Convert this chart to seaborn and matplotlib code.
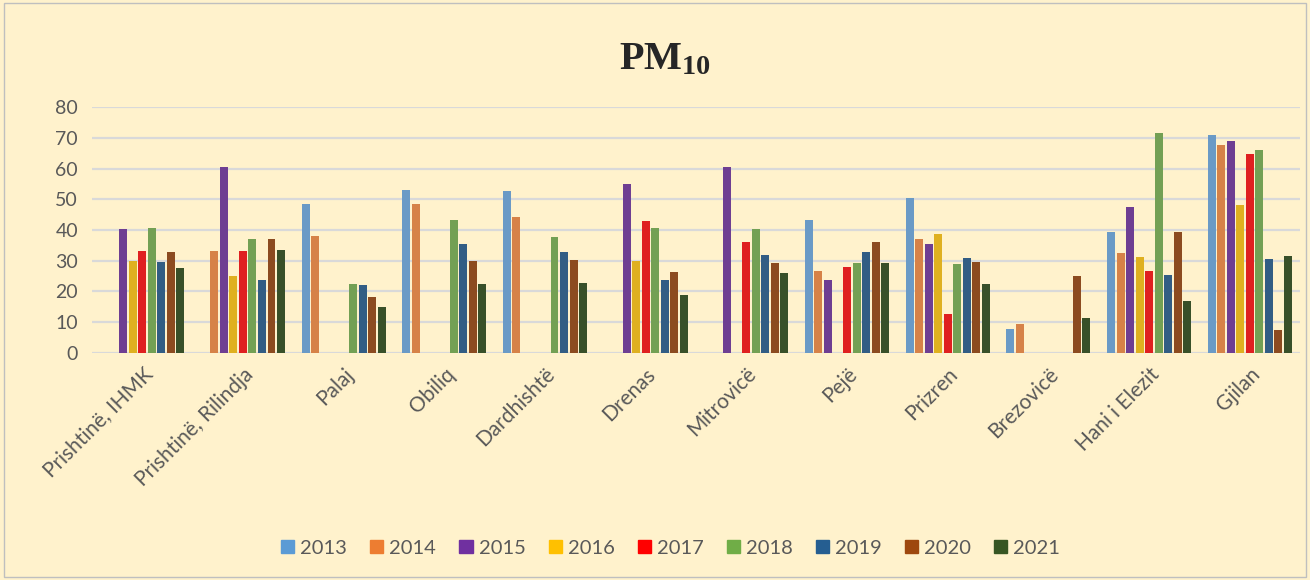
import numpy as np
import pandas as pd
import matplotlib
matplotlib.use('Agg')
import matplotlib.pyplot as plt
import seaborn as sns
from matplotlib.patches import Rectangle

nan = np.nan

# Stations (x categories) and years (hue)
stations = ['Prishtinë, IHMK', 'Prishtinë, Rilindja', 'Palaj', 'Obiliq', 'Dardhishtë',
            'Drenas', 'Mitrovicë', 'Pejë', 'Prizren', 'Brezovicë', 'Hani i Elezit', 'Gjilan']
years = ['2013', '2014', '2015', '2016', '2017', '2018', '2019', '2020', '2021']

# PM10 values per year, one entry per station (NaN = no data)
pm_2013 = [nan, nan, 48.3, 53.0, 52.8, nan, nan, 43.1, 50.4, 7.8, 39.3, 70.9]
pm_2014 = [nan, 33.3, 38.1, 48.5, 44.3, nan, nan, 26.8, 37.1, 9.4, 32.4, 67.8]
pm_2015 = [40.3, 60.5, nan, nan, nan, 54.8, 60.5, 23.6, 35.3, nan, 47.4, 68.8]
pm_2016 = [30.0, 25.1, nan, nan, nan, 29.8, nan, nan, 38.8, nan, 31.3, 48.2]
pm_2017 = [33.2, 33.1, nan, nan, nan, 42.8, 36.0, 28.0, 12.8, nan, 26.8, 64.8]
pm_2018 = [40.5, 37.1, 22.4, 43.3, 37.7, 40.5, 40.3, 29.2, 29.0, nan, 71.6, 66.1]
pm_2019 = [29.6, 23.6, 22.0, 35.4, 32.7, 23.7, 31.8, 33.0, 30.9, nan, 25.3, 30.6]
pm_2020 = [32.7, 37.1, 18.2, 29.9, 30.4, 26.3, 29.2, 36.1, 29.6, 25.2, 39.4, 7.5]
pm_2021 = [27.7, 33.4, 15.0, 22.3, 22.8, 18.7, 26.0, 29.2, 22.4, 11.5, 17.0, 31.5]

series = [pm_2013, pm_2014, pm_2015, pm_2016, pm_2017, pm_2018, pm_2019, pm_2020, pm_2021]
colors = ['#5B9BD5', '#ED7D31', '#7030A0', '#FFC000', '#FF0000',
          '#70AD47', '#255E91', '#9E480E', '#375623']

rows = []
for yr, vals in zip(years, series):
    for st, v in zip(stations, vals):
        rows.append({'Station': st, 'Year': yr, 'PM10': v})
df = pd.DataFrame(rows)

bg = '#FFF2CC'
txt = '#595959'

sns.set_style('white')
plt.rcParams['font.family'] = ['Lato', 'DejaVu Sans']
plt.rcParams['mathtext.fontset'] = 'custom'
plt.rcParams['mathtext.rm'] = 'Liberation Serif:bold'
plt.rcParams['mathtext.bf'] = 'Liberation Serif:bold'

fig = plt.figure(figsize=(13.1, 5.8), dpi=100, facecolor=bg)
ax = fig.add_axes([0.0702, 0.3914, 0.9222, 0.4241])
ax.set_facecolor(bg)

sns.barplot(data=df, x='Station', y='PM10', hue='Year', order=stations, hue_order=years,
            palette=colors, width=0.85, gap=0.16, ax=ax, errorbar=None,
            edgecolor='none', linewidth=0)

ax.set_ylim(0, 80)
ax.set_yticks(range(0, 81, 10))
ax.set_xlim(-0.5, len(stations) - 0.5)
ax.grid(axis='y', color='#D9D9D9', linewidth=1.6)
ax.set_axisbelow(True)
for s in ax.spines.values():
    s.set_visible(False)
ax.tick_params(axis='y', length=0, labelsize=14, colors=txt, pad=10)
ax.tick_params(axis='x', length=0, labelsize=15, colors=txt, pad=8)
ax.set_xticks(range(len(stations)))
ax.set_xticklabels(stations, rotation=45, ha='right', rotation_mode='anchor')
ax.set_xlabel('')
ax.set_ylabel('')

ax.legend_.remove()
handles = [Rectangle((0, 0), 1, 1, color=c) for c in colors]
fig.legend(handles, years, loc='center', bbox_to_anchor=(0.512, 0.055), ncol=9,
           frameon=False, fontsize=14.5, handlelength=0.65, handleheight=0.65,
           handletextpad=0.3, columnspacing=1.15, labelcolor=txt)

fig.text(0.508, 0.9, r'$\mathbf{PM_{10}}$', ha='center', va='center', fontsize=29)

fig.patches.append(Rectangle((0.003, 0.005), 0.994, 0.99, transform=fig.transFigure,
                             fill=False, edgecolor='#BFBFBF', linewidth=1))

fig.savefig('out.png', dpi=100, facecolor=bg)
